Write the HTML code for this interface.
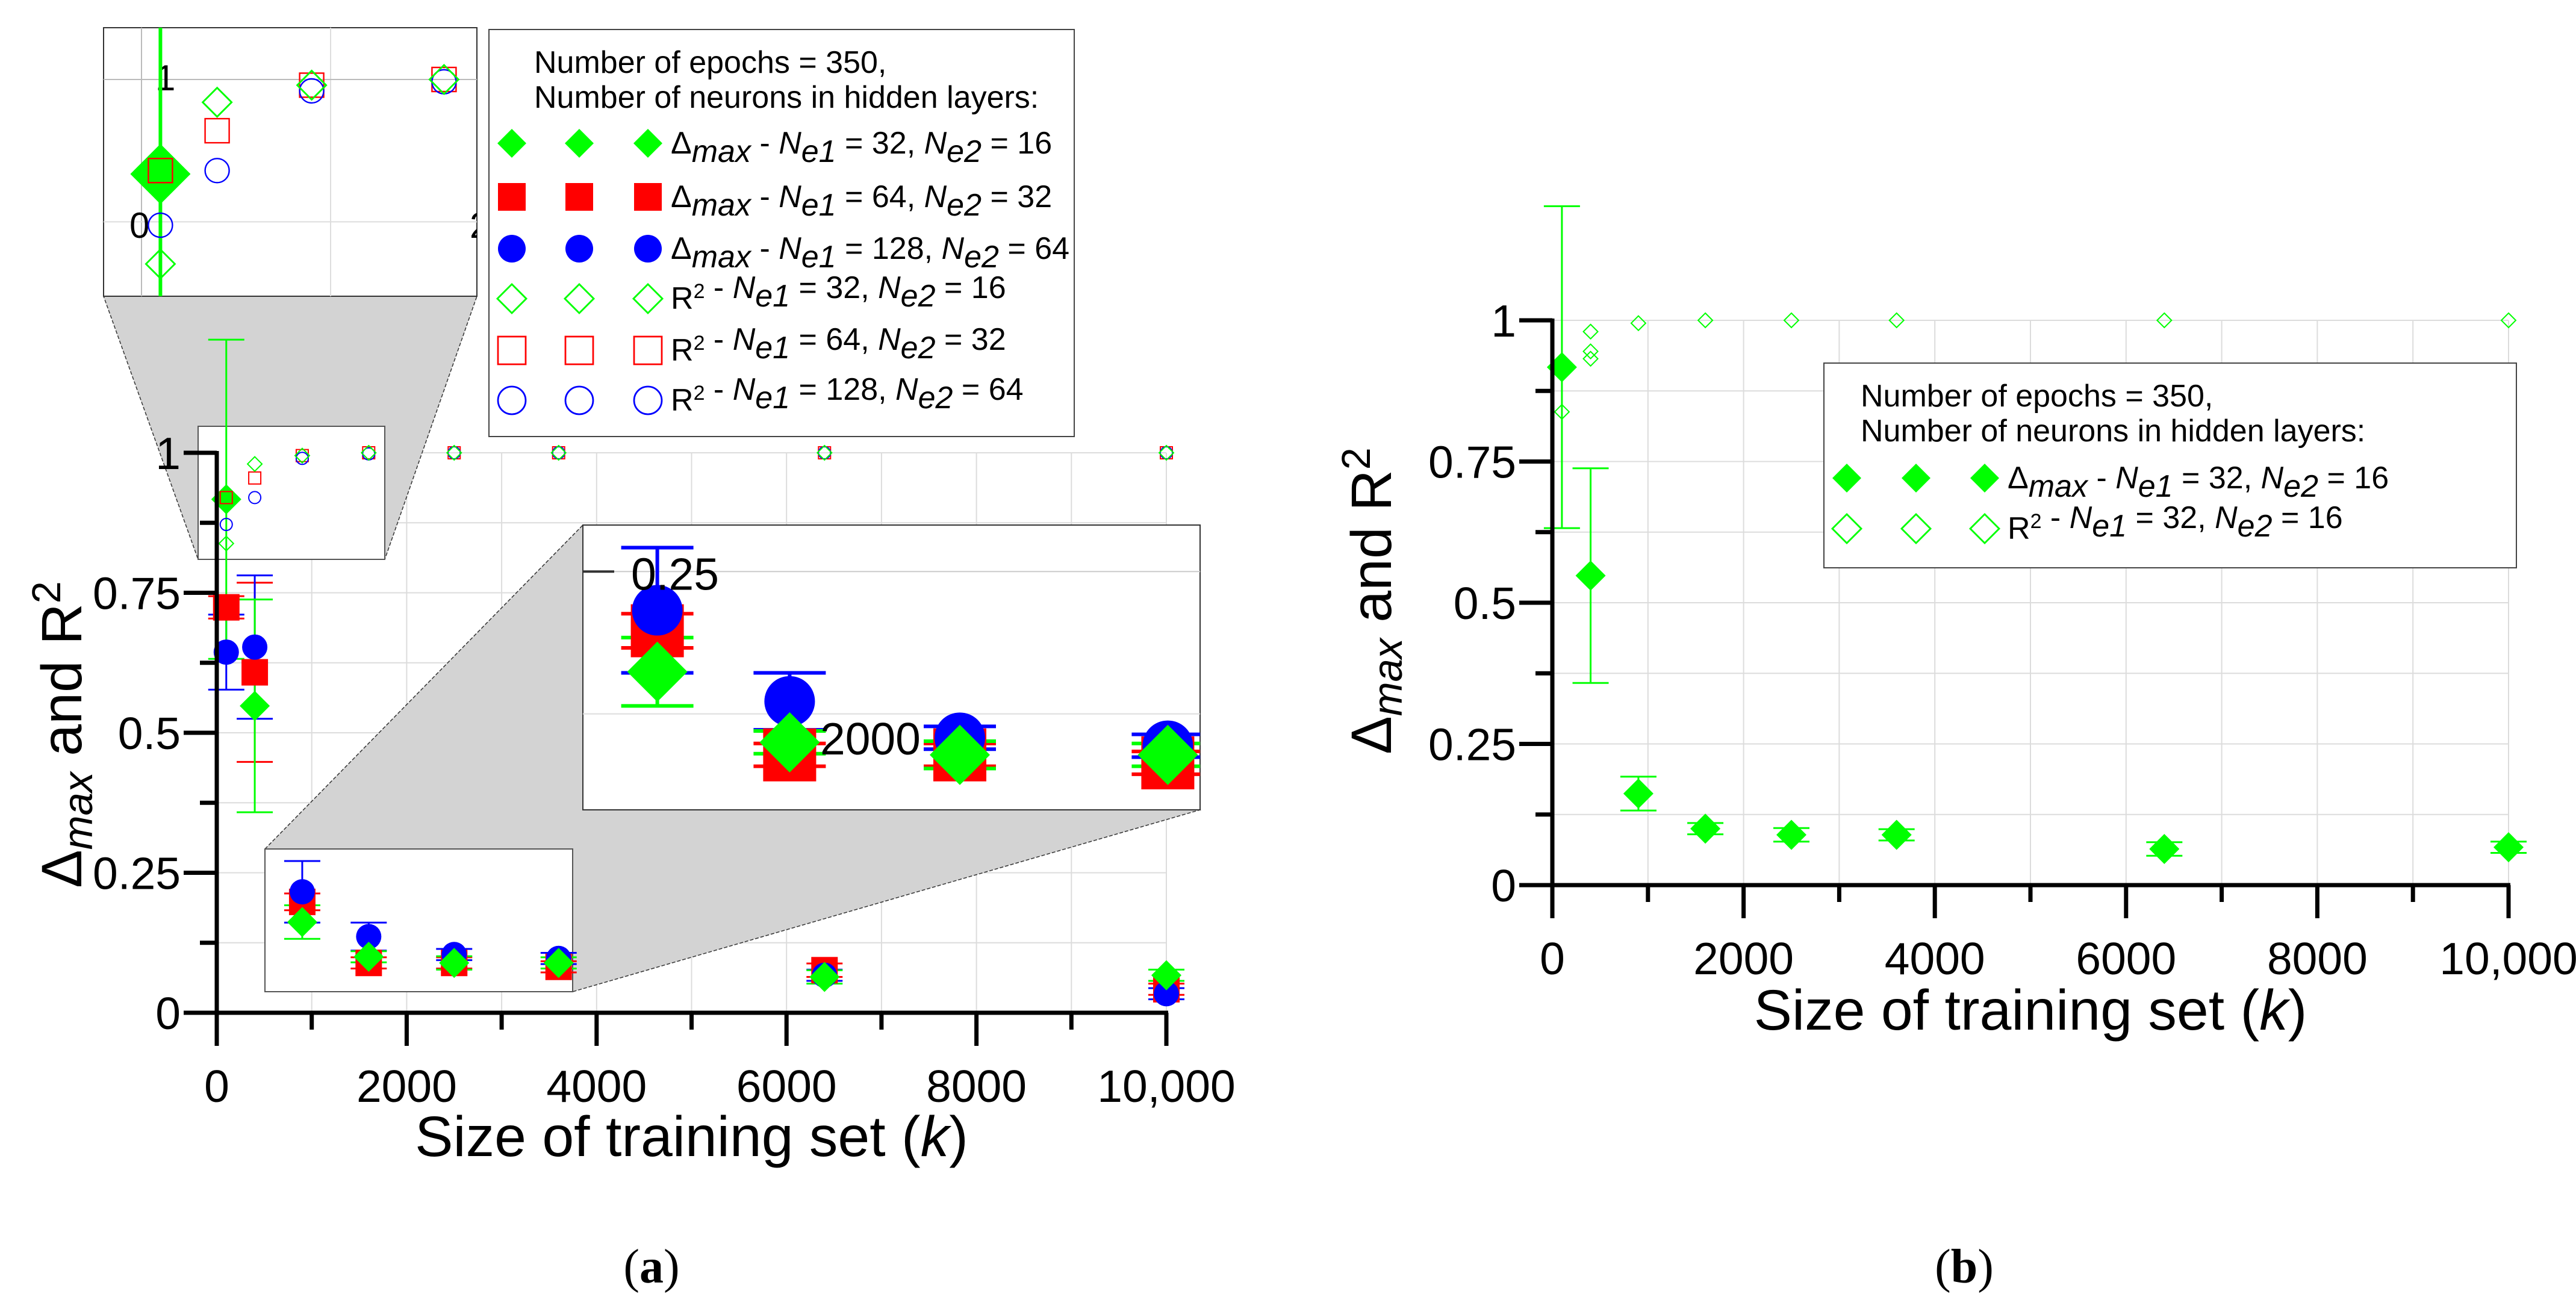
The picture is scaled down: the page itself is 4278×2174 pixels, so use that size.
<!DOCTYPE html>
<html><head><meta charset="utf-8"><style>
html,body{margin:0;padding:0;background:#fff;}
svg{display:block;font-family:"Liberation Sans",sans-serif;}
</style></head><body>
<svg id="fig" width="4278" height="2174" viewBox="0 0 4278 2174" xmlns="http://www.w3.org/2000/svg">
<defs>
<clipPath id="clip1"><rect x="172" y="46" width="620" height="446"/></clipPath>
<clipPath id="clip2"><rect x="968" y="872" width="1025" height="473"/></clipPath>
</defs>
<g id="pa"></g>
<g id="pb"></g>
</svg>
<script>
// shared data
const sizes = [100, 400, 900, 1600, 2500, 3600, 6400, 10000];
const deltaG = [0.917, 0.548, 0.162, 0.100, 0.089, 0.089, 0.064, 0.067];
const deltaR = [0.724, 0.608, 0.198, 0.089, 0.089, 0.082, 0.076, 0.042];
const deltaB = [0.644, 0.653, 0.216, 0.136, 0.104, 0.097, 0.067, 0.034];
const errG = [0.285, 0.19, 0.03, 0.01, 0.012, 0.01, 0.012, 0.01];
const errR = [0.02, 0.16, 0.015, 0.01, 0.01, 0.01, 0.012, 0.01];
const errB = [0.067, 0.128, 0.055, 0.025, 0.01, 0.01, 0.01, 0.01];
const r2G = [0.838, 0.98, 0.995, 1, 1, 1, 1, 1];
const r2R = [0.92, 0.955, 0.995, 1, 1, 1, 1, 1];
const r2B = [0.872, 0.92, 0.99, 0.998, 1, 1, 1, 1];
const r2Gextra = [0.945, 0.932];
const xTicks = [0, 2000, 4000, 6000, 8000, 10000];
const xTickLabels = ["0", "2000", "4000", "6000", "8000", "10,000"];
const yTicks = [0, 0.25, 0.5, 0.75, 1];
const yTickLabels = ["0", "0.25", "0.5", "0.75", "1"];

const NS = "http://www.w3.org/2000/svg";
function mk(parent, tag, attrs, text) {
  const e = document.createElementNS(NS, tag);
  for (const k in attrs) e.setAttribute(k, attrs[k]);
  if (text !== undefined) e.textContent = text;
  parent.appendChild(e);
  return e;
}
const GREEN = "#00ff00", RED = "#ff0000", BLUE = "#0000ff";

function marker(g, kind, cx, cy, s, filled, color, name) {
  let e;
  const fill = filled ? color : "none";
  const sw = filled ? 0 : Math.max(2, s * 0.12);
  if (kind === "d") {
    e = mk(g, "polygon", {points: `${cx},${cy - s} ${cx + s},${cy} ${cx},${cy + s} ${cx - s},${cy}`, fill: fill, stroke: color, "stroke-width": sw});
  } else if (kind === "s") {
    e = mk(g, "rect", {x: cx - s, y: cy - s, width: 2 * s, height: 2 * s, fill: fill, stroke: color, "stroke-width": sw});
  } else {
    e = mk(g, "circle", {cx: cx, cy: cy, r: s, fill: fill, stroke: color, "stroke-width": sw});
  }
  
  
  return e;
}
function errbar(g, X, Y, x, v, err, color, cap, w, name) {
  const e = mk(g, "g", {});
  
  
  mk(e, "line", {x1: X(x), x2: X(x), y1: Y(v + err), y2: Y(v - err), stroke: color, "stroke-width": w});
  mk(e, "line", {x1: X(x) - cap, x2: X(x) + cap, y1: Y(v + err), y2: Y(v + err), stroke: color, "stroke-width": w});
  mk(e, "line", {x1: X(x) - cap, x2: X(x) + cap, y1: Y(v - err), y2: Y(v - err), stroke: color, "stroke-width": w});
}

function drawSeries(g, X, Y, k, withErr, full) {
  const series = full ? [
    [deltaR, errR, "s", RED, true, "delta-64-32"],
    [deltaB, errB, "c", BLUE, true, "delta-128-64"],
    [deltaG, errG, "d", GREEN, true, "delta-32-16"]
  ] : [[deltaG, errG, "d", GREEN, true, "delta-32-16"]];
  if (withErr) {
    series.forEach(s => sizes.forEach((x, i) => errbar(g, X, Y, x, s[0][i], s[1][i], s[3], 30 * k, 3 * k, s[5] + "-errbar")));
  }
  series.forEach(s => sizes.forEach((x, i) => {
    const sz = s[2] === "d" ? 25 : (s[2] === "s" ? 22 : 21);
    marker(g, s[2], X(x), Y(s[0][i]), sz * k, true, s[3], s[5] + "-point");
  }));
  const r2s = full ? [[r2R, "s", RED, "r2-64-32"], [r2B, "c", BLUE, "r2-128-64"], [r2G, "d", GREEN, "r2-32-16"]]
                   : [[r2G, "d", GREEN, "r2-32-16"]];
  r2s.forEach(s => sizes.forEach((x, i) => {
    marker(g, s[1], X(x), Y(s[0][i]), (s[1] === "d" ? 12 : 10) * k, false, s[2], s[3] + "-point");
  }));
  if (!full) r2Gextra.forEach(v => marker(g, "d", X(400), Y(v), 12 * k, false, GREEN, "r2-32-16-point"));
}

function axes(g, X, Y) {
  for (let v = 1000; v <= 10000; v += 1000) {
    const l = mk(g, "line", {x1: X(v), x2: X(v), y1: Y(0), y2: Y(1), stroke: "#dcdcdc", "stroke-width": 2});
    
    
  }
  for (let v = 0.125; v <= 1.001; v += 0.125) {
    const l = mk(g, "line", {x1: X(0), x2: X(10000), y1: Y(v), y2: Y(v), stroke: "#dcdcdc", "stroke-width": 2});
    
    
  }
}
function axisLines(g, X, Y, fs, tfs, titleX, titleY, xtitleY, name) {
  const a = mk(g, "g", {});
  
  
  mk(a, "line", {x1: X(0), x2: X(0), y1: Y(1) - 3, y2: Y(0) + 30, stroke: "#000", "stroke-width": 7});
  mk(a, "line", {x1: X(0) - 55, x2: X(10000) + 3, y1: Y(0), y2: Y(0), stroke: "#000", "stroke-width": 7});
  for (let v = 0; v <= 10000; v += 1000) {
    const len = v % 2000 === 0 ? 55 : 28;
    mk(a, "line", {x1: X(v), x2: X(v), y1: Y(0), y2: Y(0) + len, stroke: "#000", "stroke-width": 7});
  }
  for (let v = 0.125; v <= 1.001; v += 0.125) {
    const len = Math.abs(v * 4 - Math.round(v * 4)) < 1e-6 ? 55 : 28;
    mk(a, "line", {x1: X(0) - len, x2: X(0), y1: Y(v), y2: Y(v), stroke: "#000", "stroke-width": 7});
  }
  xTicks.forEach((v, i) => {
    const t = mk(a, "text", {x: X(v), y: Y(0) + 148, "font-size": fs, "text-anchor": "middle"}, xTickLabels[i]);
    
    
  });
  yTicks.forEach((v, i) => {
    const t = mk(a, "text", {x: X(0) - 60, y: Y(v) + fs * 0.36, "font-size": fs, "text-anchor": "end"}, yTickLabels[i]);
    
    
  });
  const xt = mk(a, "text", {x: (X(0) + X(10000)) / 2, y: xtitleY, "font-size": tfs, "text-anchor": "middle"});
  
  
  xt.innerHTML = 'Size of training set (<tspan font-style="italic">k</tspan>)';
  const yt = mk(a, "text", {x: 0, y: 0, "font-size": tfs, "text-anchor": "middle", transform: `translate(${titleX},${titleY}) rotate(-90)`});
  
  
  yt.innerHTML = 'Δ<tspan font-style="italic" font-size="' + (tfs * 0.72) + '" dy="18">max</tspan><tspan dy="-18"> and R</tspan><tspan font-size="' + (tfs * 0.7) + '" dy="-35">2</tspan>';
}

function legend(g, bx, by, bw, bh, tx, rowsY, mx, rows, name) {
  const lg = mk(g, "g", {});
  
  
  mk(lg, "rect", {x: bx, y: by, width: bw, height: bh, fill: "#fff", stroke: "#444", "stroke-width": 2});
  mk(lg, "text", {x: tx, y: by + 72, "font-size": 52}, "Number of epochs = 350,");
  mk(lg, "text", {x: tx, y: by + 130, "font-size": 52}, "Number of neurons in hidden layers:");
  rows.forEach((r, i) => {
    const y = rowsY[i];
    const entry = mk(lg, "g", {});
    
    
    mx.forEach(x => marker(entry, r[0], x, y, r[0] === "d" ? 24 : 23, r[1], r[2], "legend-marker"));
    const t = mk(entry, "text", {x: mx[2] + 38, y: y + 17, "font-size": 52});
    const lab = r[3] ? 'Δ<tspan font-style="italic" dy="14">max</tspan><tspan dy="-14"> </tspan>' : 'R<tspan font-size="34" dy="-18">2</tspan><tspan dy="18"></tspan>';
    t.innerHTML = lab + ' - <tspan font-style="italic">N</tspan><tspan font-style="italic" dy="14">e1</tspan><tspan dy="-14"> = ' + r[4] + ', </tspan><tspan font-style="italic">N</tspan><tspan font-style="italic" dy="14">e2</tspan><tspan dy="-14"> = ' + r[5] + '</tspan>';
  });
}

// ---------- panel a ----------
const pa = document.getElementById("pa");
const XA = x => 360 + 0.1577 * x;
const YA = v => 1682 - 930 * v;
axes(pa, XA, YA);
const f1 = mk(pa, "polygon", {points: "172,492 792,492 639,929 329,929", fill: "#d3d3d3", stroke: "#333", "stroke-width": 1.5, "stroke-dasharray": "6,3"});


const f2 = mk(pa, "polygon", {points: "440,1410 968,872 1993,1345 951,1647", fill: "#d3d3d3", stroke: "#333", "stroke-width": 1.5, "stroke-dasharray": "6,3"});


const zr1 = mk(pa, "rect", {x: 329, y: 708, width: 310, height: 221, fill: "#fff", stroke: "#555", "stroke-width": 2});


const zr2 = mk(pa, "rect", {x: 440, y: 1410, width: 511, height: 237, fill: "#fff", stroke: "#555", "stroke-width": 2});


const gmain = mk(pa, "g", {});


drawSeries(gmain, XA, YA, 1, true, true);
axisLines(pa, XA, YA, 75, 95, 135, 1220, 1920, "panel-a");

// inset 1 (top-left)
const in1 = mk(pa, "g", {});


mk(in1, "rect", {x: 172, y: 46, width: 620, height: 446, fill: "#fff", stroke: "#333", "stroke-width": 2});
const c1 = mk(in1, "g", {"clip-path": "url(#clip1)"});
const XI1 = x => 235 + 0.314 * x;
const YI1 = v => 132 + (1 - v) * 1891;
mk(c1, "line", {x1: XI1(0), x2: XI1(0), y1: 46, y2: 492, stroke: "#bbb", "stroke-width": 2});
mk(c1, "line", {x1: XI1(1000), x2: XI1(1000), y1: 46, y2: 492, stroke: "#ddd", "stroke-width": 2});
mk(c1, "line", {x1: 172, x2: 792, y1: YI1(1), y2: YI1(1), stroke: "#bbb", "stroke-width": 2});
mk(c1, "line", {x1: 172, x2: 792, y1: YI1(0.875), y2: YI1(0.875), stroke: "#ddd", "stroke-width": 2});
mk(c1, "text", {x: 258, y: 150, "font-size": 60}, "1");
mk(c1, "text", {x: 215, y: 395, "font-size": 60}, "0");
mk(c1, "text", {x: 780, y: 395, "font-size": 60}, "2");
drawSeries(c1, XI1, YI1, 2, true, true);

// inset 2 (middle-right)
const in2 = mk(pa, "g", {});


mk(in2, "rect", {x: 968, y: 872, width: 1025, height: 473, fill: "#fff", stroke: "#333", "stroke-width": 2});
const c2 = mk(in2, "g", {"clip-path": "url(#clip2)"});
const XI2 = x => 809 + 0.314 * x;
const YI2 = v => -469 + (1 - v) * 1891;
mk(c2, "line", {x1: 968, x2: 1993, y1: YI2(0.25), y2: YI2(0.25), stroke: "#ccc", "stroke-width": 2});
mk(c2, "line", {x1: 968, x2: 1993, y1: YI2(0.125), y2: YI2(0.125), stroke: "#ddd", "stroke-width": 2});
mk(c2, "line", {x1: 968, x2: 1020, y1: YI2(0.25), y2: YI2(0.25), stroke: "#333", "stroke-width": 4});
drawSeries(c2, XI2, YI2, 2, true, true);
mk(c2, "text", {x: 1048, y: YI2(0.25) + 30, "font-size": 75}, "0.25");
mk(c2, "text", {x: 1362, y: YI2(0.1) + 20, "font-size": 75}, "2000");

legend(pa, 812, 49, 972, 676, 887, [238, 327, 413, 496, 582, 665], [850, 962, 1076],
  [["d", true, GREEN, true, "32", "16"], ["s", true, RED, true, "64", "32"], ["c", true, BLUE, true, "128", "64"],
   ["d", false, GREEN, false, "32", "16"], ["s", false, RED, false, "64", "32"], ["c", false, BLUE, false, "128", "64"]], "legend-a");

const la = mk(pa, "text", {x: 1082, y: 2130, "font-size": 80, "font-family": "Liberation Serif, serif", "text-anchor": "middle"});


la.innerHTML = '(<tspan font-weight="bold">a</tspan>)';

// ---------- panel b ----------
const pb = document.getElementById("pb");
const XB = x => 2578 + 0.1588 * x;
const YB = v => 1470 - 938 * v;
axes(pb, XB, YB);
const gb = mk(pb, "g", {});


drawSeries(gb, XB, YB, 1, true, false);
axisLines(pb, XB, YB, 75, 95, 2310, 998, 1710, "panel-b");
legend(pb, 3029, 603, 1150, 340, 3090, [794, 878], [3067, 3182, 3296],
  [["d", true, GREEN, true, "32", "16"], ["d", false, GREEN, false, "32", "16"]], "legend-b");
const lb = mk(pb, "text", {x: 3262, y: 2130, "font-size": 80, "font-family": "Liberation Serif, serif", "text-anchor": "middle"});


lb.innerHTML = '(<tspan font-weight="bold">b</tspan>)';
</script>
</body></html>
